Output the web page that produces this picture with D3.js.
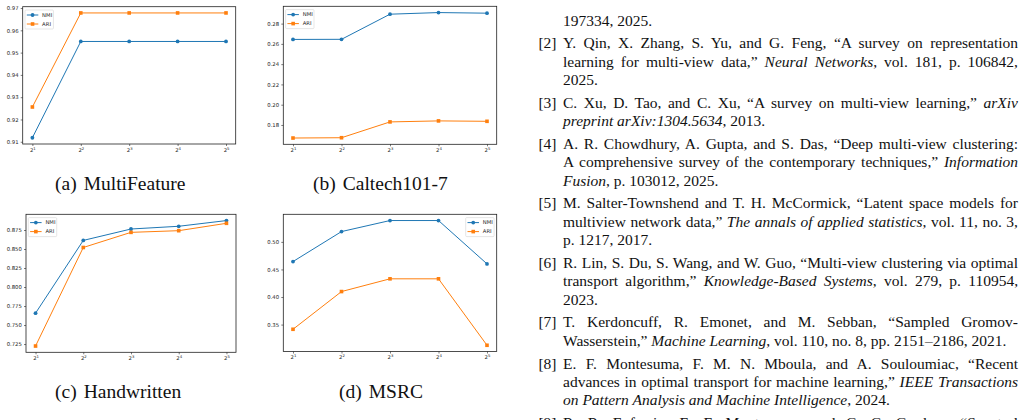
<!DOCTYPE html>
<html>
<head>
<meta charset="utf-8">
<script src="https://cdn.jsdelivr.net/npm/d3@7"></script>
<style>
  body { margin: 0; background: #fff; }
  svg { display: block; }
</style>
</head>
<body>
<svg id="page" width="1035" height="420"></svg>
<script>
// x axis: powers of two, only the exponent is stored
var exponents = [1, 2, 3, 4, 5];
var seriesNames = ["NMI", "ARI"];
var seriesColors = ["#1f77b4", "#ff7f0e"];

var multiFeatureNMI = [0.9118, 0.9550, 0.9550, 0.9550, 0.9550];
var multiFeatureARI = [0.9256, 0.9678, 0.9678, 0.9678, 0.9678];
var multiFeatureTicks = [0.91, 0.92, 0.93, 0.94, 0.95, 0.96, 0.97];

var caltechNMI = [0.2644, 0.2645, 0.2893, 0.2909, 0.2903];
var caltechARI = [0.1671, 0.1674, 0.1830, 0.1840, 0.1836];
var caltechTicks = [0.18, 0.20, 0.22, 0.24, 0.26, 0.28];

var handwrittenNMI = [0.7656, 0.8613, 0.8763, 0.8799, 0.8874];
var handwrittenARI = [0.7224, 0.8520, 0.8719, 0.8741, 0.8838];
var handwrittenTicks = [0.725, 0.750, 0.775, 0.800, 0.825, 0.850, 0.875];

var msrcNMI = [0.4643, 0.5187, 0.5387, 0.5387, 0.4601];
var msrcARI = [0.3415, 0.4099, 0.4330, 0.4330, 0.3125];
var msrcTicks = [0.35, 0.40, 0.45, 0.50];

// reference list on the right, *...* marks italics
var refLabels = ["", "[2]", "[3]", "[4]", "[5]", "[6]", "[7]", "[8]", "[9]"];
var refLines = [
  ["197334, 2025."],
  ["Y. Qin, X. Zhang, S. Yu, and G. Feng, \u201cA survey on representation",
   "learning for multi-view data,\u201d *Neural Networks*, vol. 181, p. 106842,",
   "2025."],
  ["C. Xu, D. Tao, and C. Xu, \u201cA survey on multi-view learning,\u201d *arXiv*",
   "*preprint arXiv:1304.5634*, 2013."],
  ["A. R. Chowdhury, A. Gupta, and S. Das, \u201cDeep multi-view clustering:",
   "A comprehensive survey of the contemporary techniques,\u201d *Information*",
   "*Fusion*, p. 103012, 2025."],
  ["M. Salter-Townshend and T. H. McCormick, \u201cLatent space models for",
   "multiview network data,\u201d *The annals of applied statistics*, vol. 11, no. 3,",
   "p. 1217, 2017."],
  ["R. Lin, S. Du, S. Wang, and W. Guo, \u201cMulti-view clustering via optimal",
   "transport algorithm,\u201d *Knowledge-Based Systems*, vol. 279, p. 110954,",
   "2023."],
  ["T. Kerdoncuff, R. Emonet, and M. Sebban, \u201cSampled Gromov-",
   "Wasserstein,\u201d *Machine Learning*, vol. 110, no. 8, pp. 2151\u20132186, 2021."],
  ["E. F. Montesuma, F. M. N. Mboula, and A. Souloumiac, \u201cRecent",
   "advances in optimal transport for machine learning,\u201d *IEEE Transactions*",
   "*on Pattern Analysis and Machine Intelligence*, 2024."],
  ["R. R. Eufrasio, E. F. Montesuma, and C. C. Gardner, \u201cSpectral"]
];

var panels = [
  {label: "(a)", name: "MultiFeature", nmi: multiFeatureNMI, ari: multiFeatureARI, ticks: multiFeatureTicks, fmt: ".2f",
   left: 22.7, right: 235.7, top: 6.7, bottom: 144, legend: "left", capX: 55, capY: 190},
  {label: "(b)", name: "Caltech101-7", nmi: caltechNMI, ari: caltechARI, ticks: caltechTicks, fmt: ".2f",
   left: 283.3, right: 496.7, top: 6.3, bottom: 144.3, legend: "left", capX: 313, capY: 190},
  {label: "(c)", name: "Handwritten", nmi: handwrittenNMI, ari: handwrittenARI, ticks: handwrittenTicks, fmt: ".3f",
   left: 26, right: 236, top: 214.3, bottom: 352.3, legend: "left", capX: 55, capY: 398},
  {label: "(d)", name: "MSRC", nmi: msrcNMI, ari: msrcARI, ticks: msrcTicks, fmt: ".2f",
   left: 283.3, right: 496.7, top: 214.3, bottom: 351.5, legend: "right", capX: 339, capY: 398}
];

var svg = d3.select("#page");
var fs = 5.3; // figure font size after the figure was shrunk into the page
var serif = "'Liberation Serif', 'Times New Roman', serif";

function drawPanel(p) {
  var g = svg.append("g");
  var all = p.nmi.concat(p.ari);
  var lo = d3.min(all), hi = d3.max(all), pad = (hi - lo) * 0.05;
  var x = d3.scaleLinear().domain([-0.2, exponents.length - 0.8]).range([p.left, p.right]);
  var y = d3.scaleLinear().domain([lo - pad, hi + pad]).range([p.bottom, p.top]);

  var yAxis = g.append("g")
    .attr("transform", "translate(" + p.left + ",0)")
    .call(d3.axisLeft(y).tickValues(p.ticks).tickFormat(d3.format(p.fmt)).tickSize(2).tickSizeOuter(0).tickPadding(2.2));
  var xAxis = g.append("g")
    .attr("transform", "translate(0," + p.bottom + ")")
    .call(d3.axisBottom(x).tickValues(d3.range(exponents.length)).tickFormat(function () { return ""; })
      .tickSize(2).tickSizeOuter(0).tickPadding(2));
  xAxis.selectAll(".tick text").each(function (d) {
    var t = d3.select(this);
    t.append("tspan").text("2");
    t.append("tspan").attr("dy", -2).attr("font-size", 3.8).text(exponents[d]);
  });
  [yAxis, xAxis].forEach(function (a) {
    a.select(".domain").remove();
    a.selectAll("text").attr("font-family", "DejaVu Sans").attr("font-size", fs).attr("fill", "#222");
    a.selectAll("line").attr("stroke", "#222").attr("stroke-width", 0.6);
  });

  var line = d3.line().x(function (d, i) { return x(i); }).y(function (d) { return y(d); });
  [p.nmi, p.ari].forEach(function (vals, k) {
    g.append("path").datum(vals)
      .attr("d", line).attr("fill", "none")
      .attr("stroke", seriesColors[k]).attr("stroke-width", 1);
    var pts = g.append("g").attr("fill", seriesColors[k]).selectAll("*").data(vals).enter();
    if (k === 0) {
      pts.append("circle").attr("cx", function (d, i) { return x(i); }).attr("cy", y).attr("r", 1.9);
    } else {
      pts.append("rect").attr("x", function (d, i) { return x(i) - 1.8; })
        .attr("y", function (d) { return y(d) - 1.8; }).attr("width", 3.6).attr("height", 3.6);
    }
  });

  g.append("rect")
    .attr("x", p.left).attr("y", p.top)
    .attr("width", p.right - p.left).attr("height", p.bottom - p.top)
    .attr("fill", "none").attr("stroke", "#222").attr("stroke-width", 0.8);

  // legend
  var leg = g.append("g");
  var box = leg.append("rect").attr("fill", "#fff").attr("fill-opacity", 0.8)
    .attr("stroke", "#ccc").attr("stroke-width", 0.5).attr("rx", 1).attr("ry", 1);
  var rows = leg.selectAll("g.row").data(seriesNames).enter().append("g")
    .attr("transform", function (d, i) { return "translate(0," + (i * 9) + ")"; });
  rows.append("line").attr("x1", 0).attr("x2", 11.5).attr("y1", 0).attr("y2", 0)
    .attr("stroke", function (d, i) { return seriesColors[i]; }).attr("stroke-width", 1);
  rows.each(function (d, i) {
    var r = d3.select(this);
    if (i === 0) r.append("circle").attr("cx", 5.75).attr("cy", 0).attr("r", 1.9).attr("fill", seriesColors[0]);
    else r.append("rect").attr("x", 3.95).attr("y", -1.8).attr("width", 3.6).attr("height", 3.6).attr("fill", seriesColors[1]);
  });
  var labels = rows.append("text").attr("x", 15.3).attr("dy", "0.35em")
    .attr("font-family", "DejaVu Sans").attr("font-size", fs).attr("fill", "#222")
    .text(function (d) { return d; });
  var tw = d3.max(labels.nodes(), function (n) { return n.getComputedTextLength(); });
  var bw = 15.3 + tw + 3, bh = 19;
  box.attr("x", -1.8).attr("y", -5).attr("width", bw).attr("height", bh);
  var lx = p.legend === "left" ? p.left + 4.1 : p.right - 2.6 - bw + 1.8;
  leg.attr("transform", "translate(" + lx + "," + (p.top + 8.3) + ")");

  // caption
  var cap = svg.append("text").attr("x", p.capX).attr("y", p.capY)
    .attr("font-family", serif).attr("font-size", 19.5).attr("fill", "#111");
  cap.append("tspan").text(p.label);
  cap.append("tspan").attr("dx", 7).text(p.name);
}

panels.forEach(drawPanel);

// reference column
var textLeft = 563, textRight = 1018, labelRight = 556.5;
var lineStep = 18.4, entryGap = 22.7, yPos = 25.6;
var refs = svg.append("g").attr("font-family", serif).attr("font-size", 15.5).attr("fill", "#111");
refLines.forEach(function (entry, e) {
  if (e > 0) yPos += entryGap - lineStep;
  if (refLabels[e]) {
    refs.append("text").attr("x", labelRight).attr("y", yPos).attr("text-anchor", "end").text(refLabels[e]);
  }
  entry.forEach(function (str, k) {
    var t = refs.append("text").attr("x", textLeft).attr("y", yPos);
    str.split("*").forEach(function (seg, s) {
      if (seg.length) t.append("tspan").attr("font-style", s % 2 ? "italic" : "normal").text(seg);
    });
    var last = k === entry.length - 1 && e < refLines.length - 1;
    if (!last) {
      var w = t.node().getComputedTextLength();
      var n = (str.match(/ /g) || []).length;
      if (n > 0 && w < textRight - textLeft) t.style("word-spacing", ((textRight - textLeft - w) / n) + "px");
    }
    yPos += lineStep;
  });
});
</script>
</body>
</html>
